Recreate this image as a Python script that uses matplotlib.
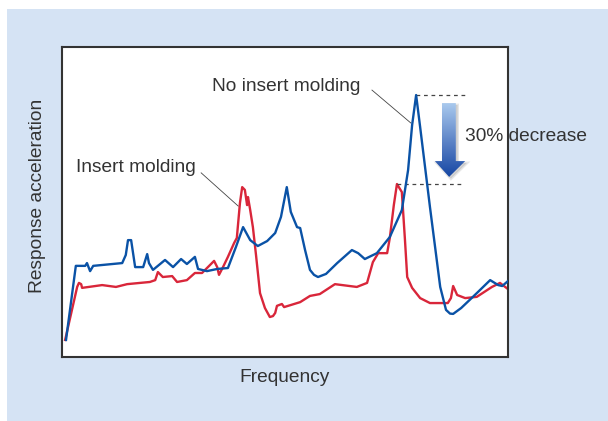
import numpy as np
import matplotlib.pyplot as plt
from matplotlib.patches import Rectangle, Polygon

# frequency / response values (arbitrary units, 0-100)
freq_no_insert = [0.9, 3.1, 5.2, 5.6, 6.3, 7.0, 13.5, 14.3, 14.8, 15.5, 16.4, 18.2, 19.1, 19.5,
                  20.4, 23.1, 24.9, 26.7, 28.0, 29.8, 30.5, 32.5, 34.8, 37.2, 39.0, 40.6, 42.2,
                  43.9, 46.0, 47.8, 49.1, 50.4, 51.3, 52.7, 53.4, 54.5, 55.6, 56.5, 57.4, 59.2, 61.7,
                  65.0, 66.4, 67.9, 70.6, 73.5, 76.2, 77.6, 78.5, 79.4, 80.3, 82.5, 84.8, 86.1,
                  87.0, 87.7, 89.5, 93.0, 96.0, 97.8, 98.7, 100.0]
resp_no_insert = [5.5, 29.4, 29.4, 30.3, 27.7, 29.4, 30.3, 32.9, 37.7, 37.7, 29.0, 29.0, 33.2, 30.3,
                  28.1, 31.3, 29.0, 31.6, 30.0, 32.3, 28.4, 27.7, 28.4, 28.7, 35.5, 41.9, 37.7,
                  35.8, 37.4, 40.0, 45.2, 54.8, 46.8, 41.9, 41.6, 34.5, 28.1, 26.5, 25.8, 26.8, 30.3,
                  34.5, 33.5, 31.6, 33.5, 38.7, 47.4, 60.3, 74.8, 84.5, 74.2, 48.4, 22.6, 15.2,
                  14.0, 13.9, 15.8, 20.6, 24.8, 23.2, 22.9, 24.5]

freq_insert = [0.7, 3.4, 3.8, 4.3, 4.5, 9.0, 12.1, 14.6, 17.5, 19.7, 20.9, 21.5, 22.6, 24.7, 25.8,
               28.0, 29.8, 31.4, 34.1, 34.8, 35.2, 36.1, 37.2, 38.6, 39.2, 39.9, 40.4, 41.0, 41.5,
               41.7, 42.2, 42.8, 43.5, 44.4, 45.5, 46.6, 47.3, 47.8, 48.2, 49.3, 49.8, 53.4, 55.6,
               57.8, 61.2, 66.1, 68.4, 69.7, 70.9, 72.9, 73.5, 74.4, 75.1, 76.2, 76.9, 77.4, 78.5,
               80.3, 82.5, 85.2, 86.5, 87.2, 87.7, 88.6, 90.4, 93.0, 96.4, 98.2, 100.0]
resp_insert = [5.5, 22.6, 23.9, 23.5, 22.3, 23.2, 22.6, 23.5, 23.9, 24.2, 24.8, 27.4, 25.8, 26.1, 24.2,
               24.8, 27.1, 27.1, 31.0, 29.0, 26.5, 29.0, 32.3, 36.8, 38.4, 49.7, 54.8, 53.9, 49.0,
               51.6, 47.4, 41.9, 32.9, 20.6, 15.8, 12.9, 13.2, 14.2, 16.5, 17.1, 16.1, 17.7, 19.7,
               20.3, 23.5, 22.6, 23.9, 30.6, 33.5, 33.5, 38.4, 49.0, 55.8, 53.2, 37.7, 25.8, 22.3,
               19.0, 17.4, 17.4, 17.4, 19.0, 22.9, 20.0, 19.0, 19.4, 22.6, 23.9, 21.9]

peak_no_insert = max(resp_no_insert)
peak_insert = max(resp_insert)

plt.rcParams['font.family'] = ['Liberation Sans', 'DejaVu Sans']
text_col = '#333333'

fig = plt.figure(figsize=(6.08, 4.21), dpi=100, facecolor='white')
fig.patches.append(Rectangle((7 / 608, 0), 1, 412 / 421, transform=fig.transFigure,
                             facecolor='#d5e3f4', edgecolor='none', zorder=-10))

ax = fig.add_axes([62 / 608, 64 / 421, 446 / 608, 310 / 421], zorder=1)
ax.set_facecolor('white')
ax.set_xticks([])
ax.set_yticks([])
for s in ax.spines.values():
    s.set_color('#333333')
    s.set_linewidth(1.5)

ax.plot(freq_no_insert, resp_no_insert, color='#0a52a6', lw=1.7, solid_joinstyle='round', zorder=3)
ax.plot(freq_insert, resp_insert, color='#d9263a', lw=1.7, solid_joinstyle='round', zorder=2)

# dashed reference lines at the two peaks
ax.plot([79.4, 90.4], [peak_no_insert, peak_no_insert], ls=(0, (3, 3)), color='#444444', lw=0.9)
ax.plot([75.1, 89.7], [peak_insert, peak_insert], ls=(0, (3, 3)), color='#444444', lw=0.9)

# gradient arrow
arrow_pts = [(85.2, 81.9), (88.3, 81.9), (88.3, 63.2), (90.4, 63.2), (86.8, 58.1),
             (83.6, 63.2), (85.2, 63.2)]
shadow = Polygon([(x + 0.4, y - 0.6) for x, y in arrow_pts], closed=True,
                 facecolor='#888888', edgecolor='#bbbbbb', lw=2, alpha=0.35, zorder=3)
ax.add_patch(shadow)
arrow = Polygon(arrow_pts, closed=True, facecolor='none', edgecolor='none', zorder=4)
ax.add_patch(arrow)
grad = np.linspace(0, 1, 100).reshape(-1, 1)
cmap = plt.matplotlib.colors.LinearSegmentedColormap.from_list('arr', ['#a9c9ee', '#5f86c8', '#1747a3'])
img = ax.imshow(grad, extent=[83.6, 90.4, 58.1, 81.9], origin='upper', cmap=cmap,
                aspect='auto', zorder=4)
img.set_clip_path(arrow)

ax.set_xlim(0, 100)
ax.set_ylim(0, 100)

ax.text(90.4, 71.0, '30% decrease', fontsize=13.8, color=text_col, ha='left', va='center',
        clip_on=False, zorder=5)

# labels with leader lines
ax.text(50.3, 87.1, 'No insert molding', fontsize=13.8, color=text_col, ha='center', va='center')
ax.plot([69.5, 78.2], [86.1, 75.5], color='#444444', lw=0.6)
ax.text(16.5, 61.0, 'Insert molding', fontsize=13.8, color=text_col, ha='center', va='center')
ax.plot([31.2, 39.5], [59.4, 48.7], color='#444444', lw=0.6)

ax.set_xlabel('Frequency', fontsize=13.8, color=text_col)
ax.set_ylabel('Response acceleration', fontsize=13.8, color=text_col)
ax.xaxis.set_label_coords(0.5, -0.065)
ax.yaxis.set_label_coords(-0.056, 0.519)
ax.xaxis.label.set_va('center')
ax.yaxis.label.set_va('center')

fig.savefig('out.png', dpi=100, facecolor='white')
